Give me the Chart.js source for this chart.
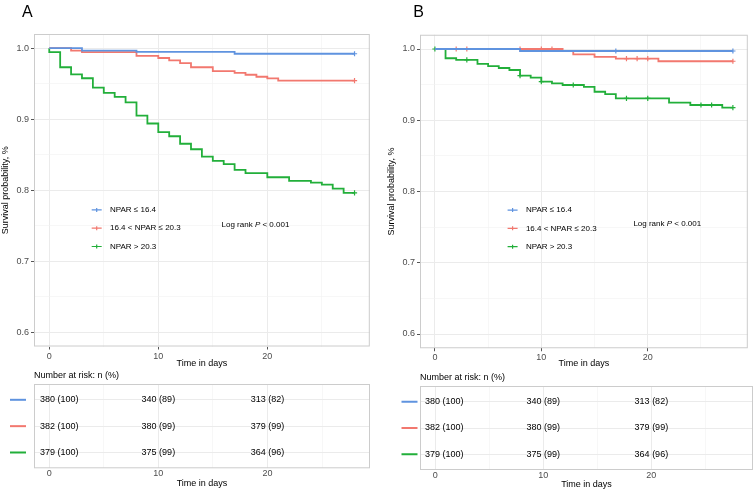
<!DOCTYPE html>
<html lang="en">
<head>
<meta charset="UTF-8">
<title>Survival by NPAR</title>
<script src="https://cdn.jsdelivr.net/npm/chart.js"></script>
<style>
  html, body { margin: 0; padding: 0; background: #fff; }
  #wrap { position: relative; width: 753px; height: 491px; overflow: hidden; }
  canvas { position: absolute; }
</style>
</head>
<body>
<div id="wrap">
  <canvas id="survA" width="375" height="370" style="left:0;top:0"></canvas>
  <canvas id="riskA" width="375" height="121" style="left:0;top:370px"></canvas>
  <canvas id="survB" width="378" height="370" style="left:375px;top:0"></canvas>
  <canvas id="riskB" width="378" height="121" style="left:375px;top:370px"></canvas>
</div>
<script>
// groups
const groups = ['NPAR \u2264 16.4', '16.4 < NPAR \u2264 20.3', 'NPAR > 20.3'];
const groupColors = ['#5F93DF', '#F2786F', '#22AF3A'];

// panel A: event days and survival after each step
const daysA_low = [0, 3, 8, 17, 28];
const survA_low = [1.0, 0.9965, 0.9948, 0.9922, 0.9922];
const censA_low = [28];
const daysA_mid = [0, 2, 3, 8, 10, 11, 12, 13, 15, 17, 18, 19, 20, 21, 28];
const survA_mid = [1.0, 0.9966, 0.9946, 0.9892, 0.9862, 0.983, 0.979, 0.9732, 0.9678, 0.9652, 0.9626, 0.9598, 0.9574, 0.9544, 0.9544];
const censA_mid = [28];
const daysA_high = [0, 0, 1, 2, 3, 4, 5, 6, 7, 8, 9, 10, 11, 12, 13, 14, 15, 16, 17, 18, 20, 22, 24, 25, 26, 27, 28];
const survA_high = [1.0, 0.9944, 0.9732, 0.9632, 0.9577, 0.9445, 0.937, 0.9316, 0.9237, 0.9052, 0.894, 0.8817, 0.876, 0.8655, 0.8577, 0.8474, 0.8415, 0.8368, 0.8286, 0.824, 0.8183, 0.8131, 0.8108, 0.8078, 0.8023, 0.7962, 0.7962];
const censA_high = [28];

// panel B
const daysB_low = [0, 8, 28];
const survB_low = [1.0, 0.9972, 0.9972];
const censB_low = [17, 28];
const daysB_mid = [0, 12, 13, 15, 17, 21, 28];
const survB_mid = [1.0, 0.9972, 0.9925, 0.989, 0.9866, 0.9828, 0.9828];
const censB_mid = [2, 3, 8, 10, 11, 18, 19, 20, 28];
const daysB_high = [0, 1, 2, 4, 5, 6, 7, 8, 9, 10, 11, 12, 14, 15, 16, 17, 22, 24, 27, 28];
const survB_high = [1.0, 0.987, 0.9846, 0.979, 0.9761, 0.9733, 0.9705, 0.9625, 0.9598, 0.9542, 0.9518, 0.9495, 0.9468, 0.94, 0.9368, 0.9308, 0.9247, 0.9214, 0.9177, 0.9177];
const censB_high = [0, 3, 8, 10, 13, 18, 20, 25, 26, 28];

// axes
const xTicks = [0, 5, 10, 15, 20, 25];
const yTicks = [0.6, 0.65, 0.7, 0.75, 0.8, 0.85, 0.9, 0.95, 1.0];

// number at risk
const riskTimes = [0, 10, 20];
const riskA_n = [[380, 340, 313], [382, 380, 379], [379, 375, 364]];
const riskA_pct = [[100, 89, 82], [100, 99, 99], [100, 99, 96]];
const riskB_n = [[380, 340, 313], [382, 380, 379], [379, 375, 364]];
const riskB_pct = [[100, 89, 82], [100, 99, 99], [100, 99, 96]];

const FONT = '"Liberation Sans", Arial, sans-serif';
Chart.defaults.font.family = FONT;
Chart.defaults.font.size = 9;

const majorX = v => v % 10 === 0;
const majorY = v => Math.round(v * 100) % 10 === 0;

function stepValue(days, surv, t) {
  let v = surv[0];
  for (let i = 0; i < days.length; i++) if (days[i] <= t) v = surv[i];
  return v;
}

function xScale(panel, height, tickLen, tickPad, titleBottom) {
  return {
    type: 'linear', min: -1.4, max: 29.4,
    afterBuildTicks: s => { s.ticks = xTicks.map(v => ({ value: v })); },
    afterFit: s => { s.height = height; },
    border: { display: false },
    grid: {
      color: c => majorX(c.tick.value) ? '#EBEBEB' : '#F2F2F2',
      lineWidth: c => majorX(c.tick.value) ? 1 : 0.6,
      tickColor: c => majorX(c.tick.value) ? '#555' : 'rgba(0,0,0,0)',
      drawTicks: tickLen > 0, tickLength: tickLen
    },
    ticks: { autoSkip: false, maxRotation: 0, color: '#4D4D4D', padding: tickPad,
      callback: v => majorX(v) ? String(v) : '' },
    title: { display: true, text: 'Time in days', color: '#000', font: { size: 9 },
      padding: { top: 0, bottom: titleBottom } }
  };
}

function survChart(id, p, series) {
  const datasets = [];
  series.forEach((s, g) => {
    datasets.push({
      label: groups[g],
      data: s.days.map((d, i) => ({ x: d, y: s.surv[i] })),
      stepped: true, borderColor: groupColors[g], borderWidth: 1.8,
      pointRadius: 0, fill: false
    });
  });
  series.forEach((s, g) => {
    datasets.push({
      label: groups[g] + ' censored',
      data: s.cens.map(t => ({ x: t, y: stepValue(s.days, s.surv, t) })),
      showLine: false, pointStyle: 'cross', pointRadius: 2.6,
      pointBorderWidth: 1.2, borderColor: groupColors[g], backgroundColor: groupColors[g]
    });
  });

  const decor = {
    id: 'decor' + id,
    beforeDatasetsDraw(chart) {
      const { ctx, chartArea: a } = chart;
      ctx.save();
      ctx.strokeStyle = '#CCCCCC';
      ctx.lineWidth = 1;
      ctx.strokeRect(a.left + 0.5, a.top + 0.5, a.right - a.left - 1, a.bottom - a.top - 1);
      ctx.restore();
    },
    afterDraw(chart) {
      const { ctx } = chart;
      const xs = chart.scales.x, ys = chart.scales.y;
      ctx.save();
      // panel letter
      ctx.fillStyle = '#000';
      ctx.font = '16px ' + FONT;
      ctx.textBaseline = 'alphabetic';
      ctx.fillText(p.letter, p.letterX, 16.7);
      // legend
      const lx = xs.getPixelForValue(p.legendDay);
      const ly = ys.getPixelForValue(p.legendVal);
      ctx.font = '8px ' + FONT;
      ctx.textBaseline = 'middle';
      groups.forEach((g, i) => {
        const y = ly + i * 18.3;
        ctx.strokeStyle = groupColors[i];
        ctx.lineWidth = 1.2;
        ctx.beginPath();
        ctx.moveTo(lx - 5, y); ctx.lineTo(lx + 5, y);
        ctx.moveTo(lx, y - 2); ctx.lineTo(lx, y + 2);
        ctx.stroke();
        ctx.fillStyle = '#000';
        ctx.fillText(g, lx + 13.3, y);
      });
      // log rank
      let px = xs.getPixelForValue(p.pDay);
      const py = ys.getPixelForValue(p.pVal);
      const parts = [['Log rank ', ''], ['P', 'italic '], [' < 0.001', '']];
      parts.forEach(([t, st]) => {
        ctx.font = st + '8px ' + FONT;
        ctx.fillText(t, px, py);
        px += ctx.measureText(t).width;
      });
      ctx.restore();
    }
  };

  return new Chart(document.getElementById(id), {
    type: 'line',
    data: { datasets },
    options: {
      responsive: false, animation: false, devicePixelRatio: 1,
      layout: { padding: { top: p.padTop, left: p.padL, right: p.padR, bottom: 0 } },
      plugins: { legend: { display: false }, tooltip: { enabled: false } },
      scales: {
        x: xScale(p, p.xH, 3, p.tickPad, p.titleBottom),
        y: {
          type: 'linear', min: 0.58, max: 1.02,
          afterBuildTicks: s => { s.ticks = yTicks.map(v => ({ value: v })); },
          afterFit: s => { s.width = 34; },
          border: { display: false },
          grid: {
            color: c => majorY(c.tick.value) ? '#EBEBEB' : '#F2F2F2',
            lineWidth: c => majorY(c.tick.value) ? 1 : 0.6,
            tickColor: c => majorY(c.tick.value) ? '#555' : 'rgba(0,0,0,0)',
            tickLength: 3
          },
          ticks: { autoSkip: false, color: '#4D4D4D', padding: 2,
            callback: v => majorY(v) ? v.toFixed(1) : '' },
          title: { display: true, text: 'Survival probability, %', color: '#000',
            font: { size: 9 }, padding: { top: 0.5, bottom: 0 } }
        }
      }
    },
    plugins: [decor]
  });
}

function riskChart(id, p, nArr, pctArr) {
  const table = {
    id: 'table' + id,
    beforeDatasetsDraw(chart) {
      const { ctx, chartArea: a } = chart;
      ctx.save();
      ctx.strokeStyle = '#CCCCCC';
      ctx.lineWidth = 1;
      ctx.strokeRect(a.left + 0.5, a.top + 0.5, a.right - a.left - 1, a.bottom - a.top - 1);
      ctx.restore();
    },
    afterDraw(chart) {
      const { ctx, chartArea: a } = chart;
      const xs = chart.scales.x, ys = chart.scales.y;
      ctx.save();
      ctx.font = '9px ' + FONT;
      ctx.fillStyle = '#000';
      ctx.textBaseline = 'middle';
      ctx.textAlign = 'left';
      ctx.fillText('Number at risk: n (%)', a.left, a.top - p.headOffset);
      nArr.forEach((row, g) => {
        const y = ys.getPixelForValue(g + 1);
        ctx.strokeStyle = groupColors[g];
        ctx.lineWidth = 2;
        ctx.beginPath();
        ctx.moveTo(a.left - p.lineGap - 16, y);
        ctx.lineTo(a.left - p.lineGap, y);
        ctx.stroke();
        row.forEach((n, j) => {
          const txt = n + ' (' + pctArr[g][j] + ')';
          if (j === 0) {
            ctx.textAlign = 'left';
            ctx.fillText(txt, a.left + p.firstOff, y);
          } else {
            ctx.textAlign = 'center';
            ctx.fillText(txt, xs.getPixelForValue(riskTimes[j]), y);
          }
        });
      });
      ctx.restore();
    }
  };

  return new Chart(document.getElementById(id), {
    type: 'line',
    data: { datasets: [] },
    options: {
      responsive: false, animation: false, devicePixelRatio: 1,
      layout: { padding: { top: p.tPadTop, left: p.padL, right: p.padR, bottom: 0 } },
      plugins: { legend: { display: false }, tooltip: { enabled: false } },
      scales: {
        x: xScale(p, p.tXH, 0, 0, p.tTitleBottom),
        y: {
          type: 'linear', min: 0.4, max: 3.6, reverse: true,
          afterBuildTicks: s => { s.ticks = [1, 2, 3].map(v => ({ value: v })); },
          afterFit: s => { s.width = 34; },
          border: { display: false },
          grid: { color: '#EBEBEB', lineWidth: 1, drawTicks: false },
          ticks: { display: false }
        }
      }
    },
    plugins: [table]
  });
}

const panelA = {
  letter: 'A', letterX: 22, padL: 0, padR: 5, padTop: 34, xH: 23.5, tickPad: 2, titleBottom: 1.3,
  legendDay: 4.35, legendVal: 0.7723, pDay: 15.8, pVal: 0.752,
  tPadTop: 14, tXH: 22.7, tTitleBottom: 2.3, headOffset: 8, lineGap: 8, firstOff: 6
};
const panelB = {
  letter: 'B', letterX: 38.3, padL: 11, padR: 0, padTop: 34.75, xH: 21.75, tickPad: 1, titleBottom: 1.3,
  legendDay: 7.3, legendVal: 0.774, pDay: 18.65, pVal: 0.754,
  tPadTop: 16, tXH: 21, tTitleBottom: 1.3, headOffset: 8.7, lineGap: 2.5, firstOff: 5
};

survChart('survA', panelA, [
  { days: daysA_low, surv: survA_low, cens: censA_low },
  { days: daysA_mid, surv: survA_mid, cens: censA_mid },
  { days: daysA_high, surv: survA_high, cens: censA_high }
]);
riskChart('riskA', panelA, riskA_n, riskA_pct);

survChart('survB', panelB, [
  { days: daysB_low, surv: survB_low, cens: censB_low },
  { days: daysB_mid, surv: survB_mid, cens: censB_mid },
  { days: daysB_high, surv: survB_high, cens: censB_high }
]);
riskChart('riskB', panelB, riskB_n, riskB_pct);
</script>
</body>
</html>
